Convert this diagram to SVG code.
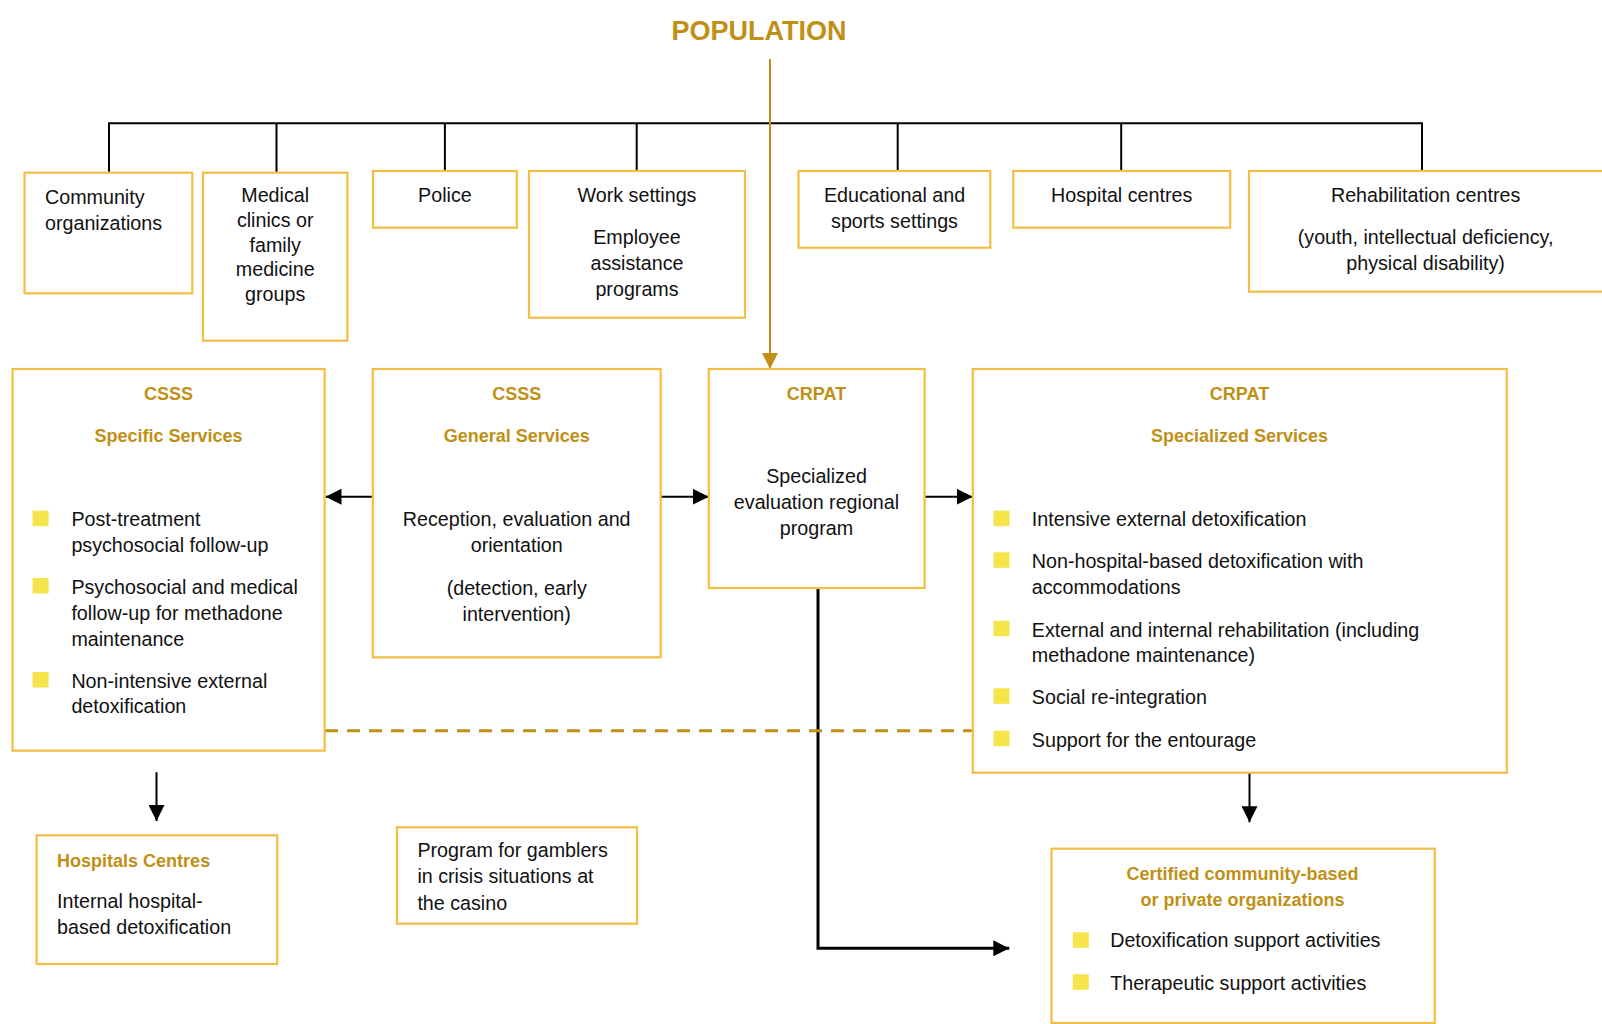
<svg xmlns="http://www.w3.org/2000/svg" width="1602" height="1024" viewBox="0 0 1602 1024">
<style>
.box{fill:#FFFFFF;stroke:#F2BE45;stroke-width:2.2}
.t{font-family:"Liberation Sans",Arial,sans-serif;font-size:19.7px;fill:#111111}
.c{text-anchor:middle}
.h{font-family:"Liberation Sans",Arial,sans-serif;font-size:18px;font-weight:bold;fill:#BF9015}
.bul{fill:#F5E44A}
.ln{stroke:#000000;stroke-width:2;fill:none}
</style>
<defs>
<marker id="ab" viewBox="0 0 16 16" refX="16" refY="8" markerWidth="16" markerHeight="16" markerUnits="userSpaceOnUse" orient="auto">
<path d="M0,0 L16,8 L0,16 Z" fill="#000000"/>
</marker>
<marker id="ag" viewBox="0 0 16 16" refX="16" refY="8" markerWidth="16" markerHeight="16" markerUnits="userSpaceOnUse" orient="auto">
<path d="M0,0 L16,8 L0,16 Z" fill="#BF9015"/>
</marker>
</defs>
<rect width="1602" height="1024" fill="#FFFFFF"/>

<text id="population" x="759" y="39.5" font-family="Liberation Sans, Arial, sans-serif" font-size="27" font-weight="bold" fill="#BF9015" text-anchor="middle">POPULATION</text>

<g id="connectors">
<path class="ln" d="M109,172.7 V123.3 H1422 V171"/>
<path class="ln" d="M276.5,123.3 V172.7"/>
<path class="ln" d="M444.9,123.3 V171"/>
<path class="ln" d="M636.7,123.3 V171"/>
<path class="ln" d="M897.7,123.3 V171"/>
<path class="ln" d="M1121.2,123.3 V171"/>
<path d="M770,59 V369" stroke="#BF9015" stroke-width="2" fill="none" marker-end="url(#ag)"/>
<path class="ln" d="M372.8,496.7 H325.5" marker-end="url(#ab)"/>
<path class="ln" d="M660.7,496.7 H708.8" marker-end="url(#ab)"/>
<path class="ln" d="M924.6,496.7 H972.7" marker-end="url(#ab)"/>
<path class="ln" d="M156.5,772.3 V821" marker-end="url(#ab)"/>
<path class="ln" d="M1249.5,772.7 V822.3" marker-end="url(#ab)"/>
<path d="M818,588 V948.3 H1009.3" stroke="#000000" stroke-width="3" fill="none" marker-end="url(#ab)"/>
<path d="M325,730.7 H972" stroke="#BF9015" stroke-width="3" stroke-dasharray="13,9" fill="none"/>
</g>

<g id="community">
<rect class="box" x="24.5" y="172.7" width="167.8" height="120.6"/>
<text class="t" x="45" y="204">Community</text>
<text class="t" x="45" y="230">organizations</text>
</g>

<g id="medical">
<rect class="box" x="203" y="172.7" width="144.4" height="168"/>
<text class="t c" x="275.2" y="202.3">Medical</text>
<text class="t c" x="275.2" y="227">clinics or</text>
<text class="t c" x="275.2" y="251.5">family</text>
<text class="t c" x="275.2" y="276">medicine</text>
<text class="t c" x="275.2" y="300.5">groups</text>
</g>

<g id="police">
<rect class="box" x="373" y="171" width="143.8" height="56.7"/>
<text class="t c" x="444.9" y="201.7">Police</text>
</g>

<g id="work">
<rect class="box" x="529" y="171" width="216" height="146.7"/>
<text class="t c" x="637" y="201.7">Work settings</text>
<text class="t c" x="637" y="244">Employee</text>
<text class="t c" x="637" y="270">assistance</text>
<text class="t c" x="637" y="295.5">programs</text>
</g>

<g id="educational">
<rect class="box" x="798.5" y="171" width="191.8" height="76.7"/>
<text class="t c" x="894.5" y="201.7">Educational and</text>
<text class="t c" x="894.5" y="228">sports settings</text>
</g>

<g id="hospital-centres">
<rect class="box" x="1013.3" y="171" width="216.9" height="56.7"/>
<text class="t c" x="1121.7" y="201.7">Hospital centres</text>
</g>

<g id="rehab">
<rect class="box" x="1249" y="171" width="360" height="120.7"/>
<text class="t c" x="1425.6" y="201.7">Rehabilitation centres</text>
<text class="t c" x="1425.6" y="244">(youth, intellectual deficiency,</text>
<text class="t c" x="1425.6" y="270.3">physical disability)</text>
</g>

<g id="csss-specific">
<rect class="box" x="12.5" y="369" width="312.1" height="381.7"/>
<text class="h c" x="168.6" y="400">CSSS</text>
<text class="h c" x="168.6" y="441.7">Specific Services</text>
<rect class="bul" x="32.6" y="510.7" width="16" height="15.5"/>
<text class="t" x="71.4" y="526">Post-treatment</text>
<text class="t" x="71.4" y="551.7">psychosocial follow-up</text>
<rect class="bul" x="32.6" y="578" width="16" height="15.5"/>
<text class="t" x="71.4" y="594">Psychosocial and medical</text>
<text class="t" x="71.4" y="620">follow-up for methadone</text>
<text class="t" x="71.4" y="645.7">maintenance</text>
<rect class="bul" x="32.6" y="672" width="16" height="15.5"/>
<text class="t" x="71.4" y="687.7">Non-intensive external</text>
<text class="t" x="71.4" y="713.3">detoxification</text>
</g>

<g id="csss-general">
<rect class="box" x="372.8" y="369" width="287.9" height="288.3"/>
<text class="h c" x="516.7" y="400">CSSS</text>
<text class="h c" x="516.7" y="441.7">General Services</text>
<text class="t c" x="516.7" y="526">Reception, evaluation and</text>
<text class="t c" x="516.7" y="551.7">orientation</text>
<text class="t c" x="516.7" y="595">(detection, early</text>
<text class="t c" x="516.7" y="620.5">intervention)</text>
</g>

<g id="crpat">
<rect class="box" x="708.8" y="369" width="215.8" height="219"/>
<text class="h c" x="816.5" y="400">CRPAT</text>
<text class="t c" x="816.5" y="483.3">Specialized</text>
<text class="t c" x="816.5" y="509">evaluation regional</text>
<text class="t c" x="816.5" y="535">program</text>
</g>

<g id="crpat-specialized">
<rect class="box" x="972.8" y="369" width="534" height="403.7"/>
<text class="h c" x="1239.5" y="400">CRPAT</text>
<text class="h c" x="1239.5" y="441.7">Specialized Services</text>
<rect class="bul" x="993.5" y="510.7" width="16" height="15.5"/>
<text class="t" x="1031.8" y="526">Intensive external detoxification</text>
<rect class="bul" x="993.5" y="552.3" width="16" height="15.5"/>
<text class="t" x="1031.8" y="568.3">Non-hospital-based detoxification with</text>
<text class="t" x="1031.8" y="594.3">accommodations</text>
<rect class="bul" x="993.5" y="620.7" width="16" height="15.5"/>
<text class="t" x="1031.8" y="636.7">External and internal rehabilitation (including</text>
<text class="t" x="1031.8" y="662.3">methadone maintenance)</text>
<rect class="bul" x="993.5" y="688.3" width="16" height="15.5"/>
<text class="t" x="1031.8" y="704">Social re-integration</text>
<rect class="bul" x="993.5" y="730.7" width="16" height="15.5"/>
<text class="t" x="1031.8" y="746.7">Support for the entourage</text>
</g>

<g id="hospitals-centres">
<rect class="box" x="36.6" y="835.3" width="240.6" height="128.7"/>
<text class="h" x="57.1" y="866.7">Hospitals Centres</text>
<text class="t" x="57.1" y="908.3">Internal hospital-</text>
<text class="t" x="57.1" y="934.3">based detoxification</text>
</g>

<g id="gamblers">
<rect class="box" x="396.9" y="827.3" width="240.1" height="96.4"/>
<text class="t" x="417.4" y="857.3">Program for gamblers</text>
<text class="t" x="417.4" y="883.3">in crisis situations at</text>
<text class="t" x="417.4" y="910">the casino</text>
</g>

<g id="certified">
<rect class="box" x="1051.5" y="848.7" width="383.3" height="174.3"/>
<text class="h c" x="1242.6" y="880">Certified community-based</text>
<text class="h c" x="1242.6" y="905.7">or private organizations</text>
<rect class="bul" x="1072.8" y="932.3" width="16" height="15.5"/>
<text class="t" x="1110.2" y="947.3">Detoxification support activities</text>
<rect class="bul" x="1072.8" y="974.3" width="16" height="15.5"/>
<text class="t" x="1110.2" y="990">Therapeutic support activities</text>
</g>
</svg>
